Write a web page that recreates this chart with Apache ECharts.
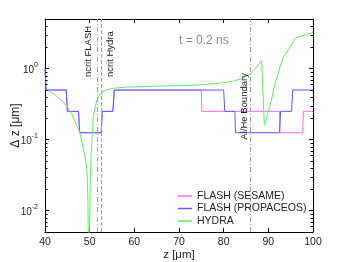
<!DOCTYPE html>
<html><head><meta charset="utf-8">
<script src="https://cdn.jsdelivr.net/npm/echarts@6/dist/echarts.min.js"></script>
<style>html,body{margin:0;padding:0;background:#fff}#c{width:346px;height:262px}</style>
</head><body><div id="c"></div>
<script>
// ---- data (z in µm, Δz in µm) ----
const seriesNames = ['FLASH (SESAME)', 'FLASH (PROPACEOS)', 'HYDRA'];
const sesame = [[40,1.0],[40.25,0.5],[44.75,0.5],[45.0,0.25],[47.5,0.25],[47.75,0.125],[52.6,0.125],[52.8,0.25],[55.2,0.25],[55.5,0.5],[75.0,0.5],[75.1,0.25],[92.5,0.25],[92.6,0.125],[97.7,0.125],[97.85,0.25],[100,0.25]];
const propaceos = [[40,1.0],[40.25,0.5],[44.75,0.5],[45.0,0.25],[47.5,0.25],[47.75,0.125],[52.6,0.125],[52.8,0.25],[55.2,0.25],[55.5,0.5],[80.0,0.5],[80.25,0.25],[82.5,0.25],[82.65,0.125],[92.5,0.125],[92.75,0.25],[95.2,0.25],[95.45,0.5],[100,0.5]];
const hydra = [[40,0.5],[41,0.48],[42,0.44],[43,0.39],[44,0.34],[45,0.29],[46,0.23],[47,0.166],[47.8,0.126],[48.5,0.079],[49,0.056],[49.4,0.036],[49.6,0.015],[49.75,0.002],[49.95,0.002],[50.05,0.01],[50.15,0.03],[50.35,0.065],[50.5,0.1],[50.8,0.2],[51.2,0.29],[51.9,0.40],[52.8,0.47],[53.8,0.5],[55.3,0.53],[58.3,0.55],[65,0.565],[72.4,0.58],[75,0.595],[78,0.615],[80,0.635],[82,0.665],[84,0.72],[85,0.78],[86,0.86],[87,1.0],[87.7,1.12],[88.5,1.3],[89.1,0.16],[90.7,0.36],[91.5,0.62],[93.2,1.38],[96.1,2.7],[99.7,3.2],[100,3.25]];
const markerLines = [51.7, 52.5, 86.0]; // ncrit FLASH, ncrit Hydra, Al/He boundary
const minorTickValues = [0.006,0.007,0.008,0.009,0.02,0.03,0.04,0.05,0.06,0.07,0.08,0.09,0.2,0.3,0.4,0.5,0.6,0.7,0.8,0.9,2,3,4];
const xMin = 40, xMax = 100, xStep = 10, yMin = 0.005, yMax = 5;

const FONT = 'Liberation Sans, Arial, Helvetica, sans-serif';
const COLORS = ['#ff66ff', '#5a5aff', '#5ef05e'];
const chart = echarts.init(document.getElementById('c'), null, {renderer: 'canvas'});

function yLabel(v) {
  const l = Math.log10(v), e = Math.round(l);
  if (Math.abs(l - e) > 1e-6) return '';
  return '{b|10}{s|' + e + '}';
}
const tickCommon = {show: true, inside: true, length: 4, lineStyle: {color: '#000', width: 1}};
const axisLineCommon = {show: true, onZero: false, lineStyle: {color: '#000', width: 1}};

const option = {
  animation: false,
  backgroundColor: '#fff',
  grid: {left: 45, right: 33, top: 19, bottom: 30, containLabel: false, outerBoundsMode: 'none'},
  legend: {
    data: seriesNames.map((n, i) => ({name: n, itemStyle: {color: COLORS[i]}})),
    orient: 'vertical', left: 178, top: 190, padding: 0,
    itemGap: 0.5, itemWidth: 14, itemHeight: 1.5, icon: 'rect',
    textStyle: {fontFamily: FONT, fontSize: 10.5, color: '#222', lineHeight: 12}
  },
  xAxis: [
    {type: 'value', min: xMin, max: xMax, interval: xStep, position: 'bottom',
     name: 'z [μm]', nameLocation: 'middle', nameGap: 17, nameMoveOverlap: false,
     nameTextStyle: {fontFamily: FONT, fontSize: 11.5, color: '#222'},
     axisLine: axisLineCommon, axisTick: tickCommon, splitLine: {show: false},
     axisLabel: {fontFamily: FONT, fontSize: 10.5, color: '#222', margin: 5}},
    {type: 'value', min: xMin, max: xMax, interval: xStep, position: 'top',
     axisLine: axisLineCommon, axisTick: tickCommon, splitLine: {show: false},
     axisLabel: {show: false}}
  ],
  yAxis: [
    {type: 'log', logBase: 10, min: yMin, max: yMax, position: 'left',
     name: 'Δ z [μm]', nameLocation: 'middle', nameGap: 23, nameRotate: 90, nameMoveOverlap: false,
     nameTextStyle: {fontFamily: FONT, fontSize: 12, color: '#222'},
     axisLine: axisLineCommon, axisTick: tickCommon, splitLine: {show: false},
     axisLabel: {margin: 7, formatter: yLabel,
       rich: {b: {fontFamily: FONT, fontSize: 10, color: '#222', verticalAlign: 'bottom', lineHeight: 14},
              s: {fontFamily: FONT, fontSize: 7, color: '#222', verticalAlign: 'top', lineHeight: 8}}}},
    {type: 'log', logBase: 10, min: yMin, max: yMax, position: 'right',
     axisLine: axisLineCommon, axisTick: tickCommon, splitLine: {show: false},
     axisLabel: {show: false}}
  ],
  series: [
    {name: seriesNames[0], type: 'line', data: sesame, showSymbol: false, symbol: 'none',
     lineStyle: {color: COLORS[0], width: 1}, itemStyle: {color: COLORS[0]}, z: 2,
     markLine: {silent: true, symbol: ['none','none'], label: {show: false},
       data: [
         {xAxis: markerLines[0], lineStyle: {color: '#a0a0a0', width: 1, type: [5,2,1,2]}},
         {xAxis: markerLines[1], lineStyle: {color: '#a0a0a0', width: 1, type: [4,2]}},
         {xAxis: markerLines[2], lineStyle: {color: '#a0a0a0', width: 1, type: [5,2,1,2]}}
       ]}},
    {name: seriesNames[1], type: 'line', data: propaceos, showSymbol: false, symbol: 'none',
     lineStyle: {color: COLORS[1], width: 1}, itemStyle: {color: COLORS[1]}, z: 3},
    {name: seriesNames[2], type: 'line', data: hydra, showSymbol: false, symbol: 'none',
     lineStyle: {color: COLORS[2], width: 1}, itemStyle: {color: COLORS[2]}, z: 4,
     markPoint: {silent: true, symbol: 'circle', symbolSize: 0,
       label: {show: true, fontFamily: FONT, fontSize: 9.5, color: '#222', rotate: 90,
               position: 'inside', align: 'left', verticalAlign: 'middle'},
       data: [
         {coord: [49.75, 0.76], value: 'ncrit FLASH', label: {formatter: 'ncrit FLASH'}},
         {coord: [54.65, 0.76], value: 'ncrit Hydra', label: {formatter: 'ncrit Hydra'}},
         {coord: [84.6, 0.1], value: 'Al/He Boundary', label: {formatter: 'Al/He Boundary'}},
         {coord: [70, 2.5], value: 't = 0.2 ns', label: {formatter: 't = 0.2 ns', rotate: 0, fontSize: 12, color: '#888'}}
       ]}},
    {type: 'custom', silent: true, z: 5, data: minorTickValues.map(v => [xMin, v]),
     renderItem: function (params, api) {
       const v = api.value(1);
       const pl = api.coord([xMin, v]);
       const pr = api.coord([xMax, v]);
       const y = Math.round(pl[1]) + 0.5;
       return {type: 'group', children: [
         {type: 'line', shape: {x1: pl[0], y1: y, x2: pl[0] + 2.5, y2: y}, style: {stroke: '#000', lineWidth: 1}},
         {type: 'line', shape: {x1: pr[0], y1: y, x2: pr[0] - 2.5, y2: y}, style: {stroke: '#000', lineWidth: 1}}
       ]};
     }}
  ]
};
chart.setOption(option);
</script>
</body></html>
